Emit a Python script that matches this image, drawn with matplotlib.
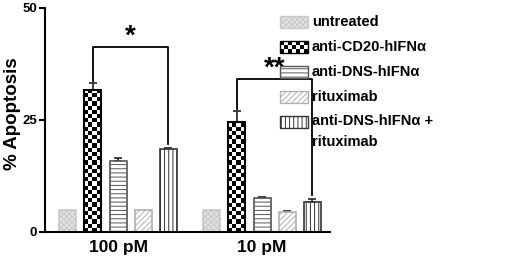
import numpy as np
import matplotlib
matplotlib.use('Agg')
import matplotlib.pyplot as plt
from matplotlib.patches import Rectangle

plt.rcParams['font.family'] = ['Liberation Sans', 'DejaVu Sans']
plt.rcParams['font.weight'] = 'bold'
plt.rcParams['hatch.linewidth'] = 0.7

# данные
groups = ['100 pM', '10 pM']
series = ['untreated', 'anti-CD20-hIFNα', 'anti-DNS-hIFNα', 'rituximab',
          'anti-DNS-hIFNα +\nrituximab']
values = [[5.0, 31.8, 15.8, 5.0, 18.5],
          [5.0, 24.5, 7.5, 4.4, 6.8]]
errors = [[0.0, 1.4, 0.7, 0.0, 0.3],
          [0.0, 2.4, 0.3, 0.2, 0.6]]
yticks = [0, 25, 50]
stars = ['*', '**']

# стили: (facecolor, edgecolor, hatch, шахматка)
styles = [('#e2e2e2', '#c8c8c8', 'xxxxxx', False),
          ('white', 'black', None, True),
          ('white', '#555555', '----', False),
          ('white', '#b0b0b0', '//////', False),
          ('white', '#333333', '||||', False)]

W, H = 520, 262
fig = plt.figure(figsize=(W / 100, H / 100), dpi=100)
ax = fig.add_axes([45 / W, 30 / H, 285 / W, 224 / H])

step = 0.175
width = 0.118
xg = np.arange(len(groups))
cell_x = 4.2 / 144
cell_y = 4.2 * 50 / 224


def checker(nx, ny):
    return (np.add.outer(np.arange(ny), np.arange(nx)) % 2).astype(float)


for gi, g in enumerate(groups):
    for si in range(len(series)):
        fc, ec, hatch, chk = styles[si]
        x = xg[gi] + (si - 2) * step
        v = values[gi][si]
        bars = ax.bar(x, v, width=width, facecolor=fc, edgecolor=ec,
                      hatch=hatch, linewidth=1.2, zorder=2)
        if chk:
            nx = int(np.ceil(width / cell_x))
            ny = int(np.ceil(v / cell_y))
            x0 = x - width / 2
            im = ax.imshow(checker(nx, ny), cmap='gray', interpolation='nearest',
                           extent=[x0, x0 + nx * cell_x, 0, ny * cell_y],
                           origin='lower', aspect='auto', zorder=2.5)
            im.set_clip_path(bars[0])
            ax.bar(x, v, width=width, facecolor='none', edgecolor='black',
                   linewidth=1.5, zorder=3)
        if errors[gi][si] > 0:
            ax.errorbar(x, v, yerr=[[0], [errors[gi][si]]], fmt='none',
                        ecolor='#222222', elinewidth=1.2, capsize=3,
                        capthick=1.2, zorder=1)

# скобки значимости
brackets = [(41.3, 33.8, 19.6), (34.2, 27.5, 8.2)]
for gi, (top, l, r) in enumerate(brackets):
    xl = xg[gi] - step
    xr = xg[gi] + 2 * step
    ax.plot([xl, xl, xr, xr], [l, top, top, r], color='black', lw=1.3)
    ax.text((xl + xr) / 2, top - 0.6, stars[gi], ha='center', va='bottom',
            fontsize=20, fontweight='bold')

ax.set_xlim(-0.507, 1.472)
ax.set_ylim(0, 50)
ax.set_yticks(yticks)
ax.set_yticklabels([str(t) for t in yticks], fontsize=9.5, fontweight='bold')
ax.set_xticks(xg)
ax.set_xticklabels(groups, fontsize=12.5, fontweight='bold')
ax.tick_params(axis='x', length=0, pad=6)
ax.tick_params(axis='y', length=4, width=1.5, pad=1.5)
ax.set_ylabel('% Apoptosis', fontsize=13.5, fontweight='bold')
ax.yaxis.set_label_coords(-0.085, 0.53)
for s in ['top', 'right']:
    ax.spines[s].set_visible(False)
for s in ['left', 'bottom']:
    ax.spines[s].set_linewidth(1.5)

# легенда вручную
lg = fig.add_axes([0, 0, 1, 1])
lg.axis('off')
ys = [22, 47, 72, 97, 122]
for si, name in enumerate(series):
    fc, ec, hatch, chk = styles[si]
    y = ys[si]
    if chk:
        lg.imshow(checker(7, 3), cmap='gray', interpolation='nearest',
                  extent=[280, 308, y + 6, y - 6], aspect='auto', zorder=2)
        lg.add_patch(Rectangle((280, y - 6), 28, 12, facecolor='none',
                               edgecolor='black', linewidth=1.0, zorder=3))
    else:
        lg.add_patch(Rectangle((280, y - 6), 28, 12, facecolor=fc, edgecolor=ec,
                               hatch=hatch, linewidth=1.0, zorder=2))
    if '\n' in name:
        lg.text(312, y - 8, name, va='top', fontsize=10.5,
                fontweight='bold', linespacing=1.65)
    else:
        lg.text(312, y, name, va='center', fontsize=10.5, fontweight='bold')
lg.set_xlim(0, W)
lg.set_ylim(H, 0)

fig.savefig('out.png', dpi=100)
